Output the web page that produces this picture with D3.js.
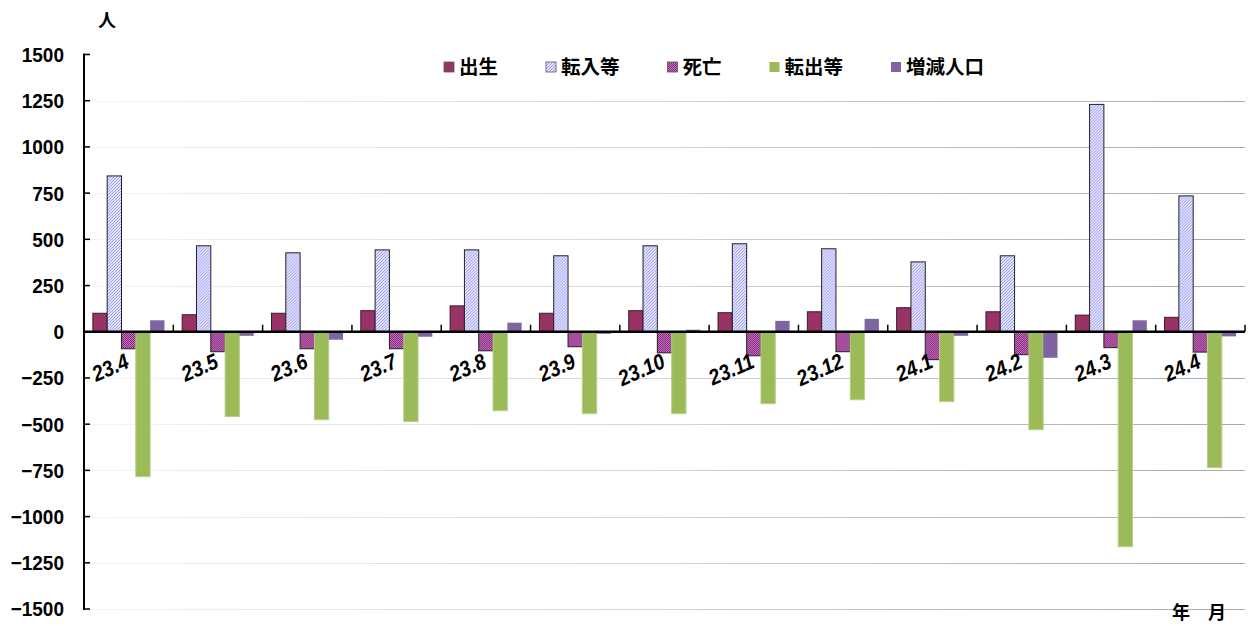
<!DOCTYPE html>
<html>
<head>
<meta charset="utf-8">
<script src="https://cdn.jsdelivr.net/npm/d3@7/dist/d3.min.js"></script>
<style>
	body { margin: 0; background: #fff; }
	text { font-family: 'Liberation Sans', Arial, sans-serif; }
	.jp { font-family: 'Noto Sans CJK JP', sans-serif; font-weight: bold; }
</style>
</head>
<body>
<script>
(function() {
	'use strict';

	// DATA //

	var categories = [ '23.4', '23.5', '23.6', '23.7', '23.8', '23.9', '23.10', '23.11', '23.12', '24.1', '24.2', '24.3', '24.4' ],
		seriesNames = [ '出生', '転入等', '死亡', '転出等', '増減人口' ],
		births = [ 100, 92, 100, 114, 140, 100, 114, 103, 108, 130, 108, 90, 78 ],
		movedIn = [ 843, 465, 427, 443, 443, 411, 465, 476, 449, 378, 411, 1230, 735 ],
		deaths = [ -92, -108, -92, -92, -103, -81, -114, -130, -108, -151, -124, -86, -110 ],
		movedOut = [ -784, -459, -476, -486, -427, -443, -443, -389, -368, -378, -530, -1163, -735 ],
		netChange = [ 62, -22, -43, -27, 49, -11, 11, 59, 70, -22, -141, 62, -25 ],
		yTicks = [ 1500, 1250, 1000, 750, 500, 250, 0, -250, -500, -750, -1000, -1250, -1500 ];


	// VARIABLES //

	var WIDTH = 1248,
		HEIGHT = 626,
		LEFT = 84,
		RIGHT = 1245,
		TOP = 54.5,
		BOTTOM = 609,
		LEGEND_FONT = 19.5,
		series,
		fills,
		strokes,
		svg,
		defs,
		grad,
		pat,
		x0,
		x1,
		y,
		y0,
		groups,
		legend,
		lx;

	series = [ births, movedIn, deaths, movedOut, netChange ];
	fills = [ '#993366', 'url(#hatch)', 'url(#checker)', '#9bbb59', '#8064a2' ];
	strokes = [ '#3a1a2a', '#222', '#222', '#b8cf8a', 'none' ];

	// Scales:
	x0 = d3.scaleBand()
		.domain( categories )
		.range( [ LEFT, RIGHT ] )
		.padding( 0 );

	x1 = d3.scaleBand()
		.domain( d3.range( seriesNames.length ) )
		.range( [ 0, x0.bandwidth() ] )
		.paddingInner( 0 )
		.paddingOuter( 0.62 );

	y = d3.scaleLinear()
		.domain( [ -1500, 1500 ] )
		.range( [ BOTTOM, TOP ] );

	y0 = y( 0 );

	// Canvas:
	svg = d3.select( 'body' ).append( 'svg' )
		.attr( 'width', WIDTH )
		.attr( 'height', HEIGHT );

	defs = svg.append( 'defs' );

	// Gridline gradient (fades to the left):
	grad = defs.append( 'linearGradient' )
		.attr( 'id', 'gridfade' )
		.attr( 'gradientUnits', 'userSpaceOnUse' )
		.attr( 'x1', LEFT ).attr( 'x2', RIGHT )
		.attr( 'y1', 0 ).attr( 'y2', 0 );
	grad.append( 'stop' ).attr( 'offset', '0' ).attr( 'stop-color', '#f4f4f4' );
	grad.append( 'stop' ).attr( 'offset', '0.45' ).attr( 'stop-color', '#d8d8d8' );
	grad.append( 'stop' ).attr( 'offset', '1' ).attr( 'stop-color', '#a8a8a8' );

	// Hatch pattern for moved-in:
	pat = defs.append( 'pattern' )
		.attr( 'id', 'hatch' )
		.attr( 'patternUnits', 'userSpaceOnUse' )
		.attr( 'width', 3 ).attr( 'height', 3 );
	pat.append( 'rect' ).attr( 'width', 3 ).attr( 'height', 3 ).attr( 'fill', '#e4e4ff' );
	pat.append( 'path' ).attr( 'd', 'M0,3 L3,0 M-1,1 L1,-1 M2,4 L4,2' )
		.attr( 'stroke', '#9a9af0' ).attr( 'stroke-width', 1 );

	// Checker pattern for deaths:
	pat = defs.append( 'pattern' )
		.attr( 'id', 'checker' )
		.attr( 'patternUnits', 'userSpaceOnUse' )
		.attr( 'width', 2 ).attr( 'height', 2 );
	pat.append( 'rect' ).attr( 'width', 2 ).attr( 'height', 2 ).attr( 'fill', '#d070d0' );
	pat.append( 'rect' ).attr( 'width', 1 ).attr( 'height', 1 ).attr( 'fill', '#7a2a6a' );
	pat.append( 'rect' ).attr( 'x', 1 ).attr( 'y', 1 ).attr( 'width', 1 ).attr( 'height', 1 ).attr( 'fill', '#7a2a6a' );

	// Gridlines:
	svg.append( 'g' ).selectAll( 'line' )
		.data( yTicks.filter( function( d ) { return d !== 0 && d !== 1500; } ) )
		.enter().append( 'line' )
		.attr( 'x1', LEFT ).attr( 'x2', RIGHT )
		.attr( 'y1', function( d ) { return Math.round( y( d ) ) + 0.5; } )
		.attr( 'y2', function( d ) { return Math.round( y( d ) ) + 0.5; } )
		.attr( 'stroke', 'url(#gridfade)' )
		.attr( 'stroke-width', 1.2 );

	// Bars:
	groups = svg.append( 'g' ).selectAll( 'g' )
		.data( categories )
		.enter().append( 'g' )
		.attr( 'transform', function( d ) { return 'translate(' + x0( d ) + ',0)'; } );

	groups.selectAll( 'rect' )
		.data( function( d, i ) {
			return series.map( function( s, k ) { return { k: k, v: s[ i ] }; } );
		})
		.enter().append( 'rect' )
		.attr( 'x', function( d ) { return x1( d.k ); } )
		.attr( 'width', x1.bandwidth() )
		.attr( 'y', function( d ) { return d.v >= 0 ? y( d.v ) : y0; } )
		.attr( 'height', function( d ) { return Math.abs( y( d.v ) - y0 ); } )
		.attr( 'fill', function( d ) { return fills[ d.k ]; } )
		.attr( 'stroke', function( d ) { return strokes[ d.k ]; } )
		.attr( 'stroke-width', 1 );

	// Axes:
	svg.append( 'line' )
		.attr( 'x1', LEFT ).attr( 'x2', LEFT )
		.attr( 'y1', TOP - 1 ).attr( 'y2', BOTTOM + 1 )
		.attr( 'stroke', '#000' ).attr( 'stroke-width', 2 );

	svg.append( 'g' ).selectAll( 'line' )
		.data( yTicks )
		.enter().append( 'line' )
		.attr( 'x1', LEFT ).attr( 'x2', LEFT + 6 )
		.attr( 'y1', function( d ) { return y( d ); } )
		.attr( 'y2', function( d ) { return y( d ); } )
		.attr( 'stroke', '#000' ).attr( 'stroke-width', 1.5 );

	svg.append( 'g' ).selectAll( 'text' )
		.data( yTicks )
		.enter().append( 'text' )
		.attr( 'x', 64 )
		.attr( 'y', function( d ) { return y( d ); } )
		.attr( 'dy', '0.36em' )
		.attr( 'text-anchor', 'end' )
		.attr( 'font-size', 19 )
		.attr( 'font-weight', 'bold' )
		.attr( 'transform', function( d ) { return 'translate(0,' + ( -0.08 * y( d ) ) + ') scale(1,1.08)'; } )
		.text( function( d ) { return d < 0 ? '\u2212' + Math.abs( d ) : d; } );

	svg.append( 'line' )
		.attr( 'x1', LEFT ).attr( 'x2', RIGHT )
		.attr( 'y1', y0 ).attr( 'y2', y0 )
		.attr( 'stroke', '#000' ).attr( 'stroke-width', 2.5 );

	svg.append( 'g' ).selectAll( 'line' )
		.data( categories )
		.enter().append( 'line' )
		.attr( 'x1', function( d ) { return x0( d ) + x0.bandwidth(); } )
		.attr( 'x2', function( d ) { return x0( d ) + x0.bandwidth(); } )
		.attr( 'y1', y0 - 7 ).attr( 'y2', y0 )
		.attr( 'stroke', '#000' ).attr( 'stroke-width', 1.5 );

	// Category labels (right end sits near group centre):
	svg.append( 'g' ).selectAll( 'text' )
		.data( categories )
		.enter().append( 'text' )
		.attr( 'transform', function( d ) {
			return 'translate(' + ( x0( d ) + x0.bandwidth() / 2 + 2 ) + ',' + ( y0 + 35 ) + ') rotate(-24) scale(0.88,1)';
		})
		.attr( 'text-anchor', 'end' )
		.attr( 'font-size', 22 )
		.attr( 'font-style', 'italic' )
		.attr( 'font-weight', 'bold' )
		.attr( 'fill', '#000' )
		.text( function( d ) { return d; } );

	// Unit labels:
	svg.append( 'text' )
		.attr( 'class', 'jp' )
		.attr( 'x', 107 ).attr( 'y', 21 )
		.attr( 'dy', '0.35em' )
		.attr( 'text-anchor', 'middle' )
		.attr( 'font-size', 18 )
		.text( '人' );

	svg.append( 'text' )
		.attr( 'class', 'jp' )
		.attr( 'x', 1199 ).attr( 'y', 613 )
		.attr( 'dy', '0.35em' )
		.attr( 'text-anchor', 'middle' )
		.attr( 'font-size', 18 )
		.text( '年\u3000月' );

	// Legend:
	legend = svg.append( 'g' );
	lx = 444;
	seriesNames.forEach( function( name, k ) {
		legend.append( 'rect' )
			.attr( 'x', lx ).attr( 'y', 62 )
			.attr( 'width', 10 ).attr( 'height', 10 )
			.attr( 'fill', fills[ k ] )
			.attr( 'stroke', k < 3 ? '#555' : 'none' )
			.attr( 'stroke-width', 0.8 );
		legend.append( 'text' )
			.attr( 'class', 'jp' )
			.attr( 'x', lx + 15 ).attr( 'y', 67 )
			.attr( 'dy', '0.36em' )
			.attr( 'font-size', LEGEND_FONT )
			.text( name );
		lx += 15 + name.length * LEGEND_FONT + 48;
	});

})();
</script>
</body>
</html>
